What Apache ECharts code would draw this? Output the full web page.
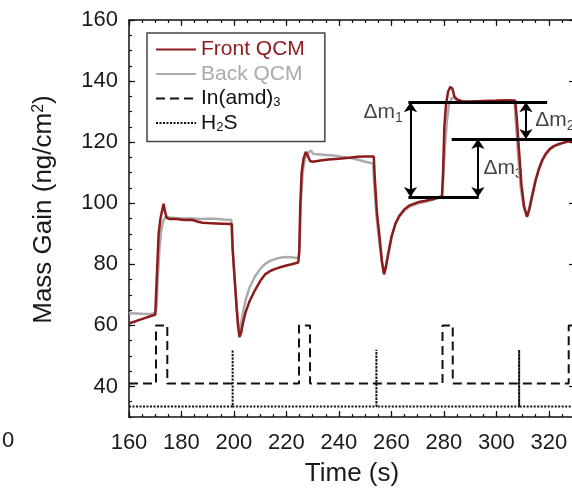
<!DOCTYPE html>
<html><head><meta charset="utf-8">
<script src="https://cdn.jsdelivr.net/npm/echarts@6/dist/echarts.min.js"></script>
<style>html,body{margin:0;padding:0;background:#fff}#c{width:572px;height:488px}</style>
</head><body><div id="c"></div>
<script>
// ---- data ----
const frontQCM = [
[160,60.7],[162,61.2],[164,61.8],[166,62.4],[168,63.0],[170,63.5],[170.4,64],[170.8,80],[171.3,90],[172,95],[172.6,97.5],[173.2,99.8],[173.8,97],[174.4,95.2],[175.5,94.8],[178,94.8],[181,94.5],[184,94.6],[186,94.0],[188,93.6],[190,93.5],[193,93.4],[196,93.3],[199.2,93.2],
[199.5,85],[200.2,76],[201,66],[201.6,59.5],[202.1,56.2],[202.7,57.5],[203.5,61],[204.5,64.5],[206,68],[208,71.5],[210,74.5],[212,76.8],[214,77.9],[216,78.6],[218,79.1],[220,79.6],[222,80.0],[224.5,80.6],
[224.9,84],[225.3,100],[225.8,110],[226.5,114.5],[227.4,116.8],[228.2,115.5],[229,113.8],[230,113.6],[233,114.0],[236,114.3],[240,114.6],[244,114.9],[247,115.2],[250,115.3],[253.3,115.3],
[253.7,108],[254.5,97],[255.5,89],[256.4,81],[257.2,76.7],[257.9,79],[258.8,83.5],[260,88.8],[261.5,93.2],[263,95.8],[265,98],[267,99.3],[270,100.3],[273,100.8],[276,101.4],[279.3,102.3],
[279.7,110],[280.2,125],[280.8,132],[281.6,136.5],[282.5,138.1],[283.3,137.5],[284,135],[285,134],[287,133.4],[290,133.3],[295,133.5],[300,133.6],[304,133.7],[307.2,133.6],
[307.8,128],[308.6,118],[309.6,106],[310.6,99],[311.7,95.5],[312.6,98],[313.6,102],[315,107.5],[316.3,111.3],[317.5,114],[319,116.3],[320.5,117.8],[322,118.7],[324,119.4],[326.5,120],[329,120.6],[330,120.8]
];
const backQCM = [
[160,64.0],[163,63.9],[166,63.7],[168,63.7],[170,64.0],[170.5,66],[171,76],[171.6,85],[172.3,91],[173,94],[173.8,95.6],[174.5,95.8],[175.5,95.3],[178,95.2],[181,95.0],[184,95.0],[187,94.8],[190,94.9],[193,94.9],[196,94.7],[199,94.6],
[199.3,88],[200,79],[200.8,69],[201.5,61],[202.1,58.3],[202.7,60.5],[203.5,64.5],[204.5,68.5],[206,72.5],[208,76],[210,78.5],[212,80.2],[214,81.2],[216,81.8],[218,82.2],[220,82.4],[222,82.3],[224.6,82.0],
[225,86],[225.5,100],[226.2,110],[227,114.5],[228,116.3],[229.3,117.3],[230.2,116.2],[232,116.0],[235,115.8],[238,115.6],[241,115.2],[244,114.9],[247,114.3],[250,113.6],[253,113.0],
[253.5,106],[254.3,96],[255.3,88],[256.3,81],[257.2,77.3],[258,79.8],[259,84],[260.2,89.3],[261.6,93.3],[263,95.6],[265,97.6],[267,98.9],[270,99.9],[273,100.5],[276,101.2],[279.3,102.0],
[279.8,108],[280.4,118],[281.2,127],[282,132.5],[283,134.5],[284,134.4],[285,133.8],[287,133.3],[290,133.1],[295,133.2],[300,133.3],[304,133.3],[307,133.1],
[307.5,126],[308.3,116],[309.3,105],[310.5,98.5],[311.7,95.8],[312.6,98.5],[313.6,102.5],[315,107.8],[316.3,111.6],[317.5,114.2],[319,116.5],[320.5,117.9],[322,118.8],[324,119.5],[326.5,120.1],[329,120.7],[330,120.9]
];
const inAmdPulse = [
[160,41],[170.3,41],[170.3,60],[174.6,60],[174.6,41],[224.8,41],[224.8,60],[229,60],[229,41],[279.5,41],[279.5,60],[283.4,60],[283.4,41],[327.6,41],[327.6,60],[330,60]
];
const h2sPulse = [
[160,33.4],[199.5,33.4],[199.5,52],[199.5,33.4],[254.3,33.4],[254.3,52],[254.3,33.4],[308.7,33.4],[308.7,52],[308.7,33.4],[330,33.4]
];
const xTickLabels = [160,180,200,220,240,260,280,300,320];
const yTickLabels = [40,60,80,100,120,140,160];
// Δm annotation: horizontal levels [tStart, tEnd, value]
const dmLevels = [[266.5,319.4,133.1],[283,330,121],[266.5,293.3,102]];
// double arrows [t, vTop, vBottom]
const dmArrows = [[267.3,133.1,102],[311.3,133.1,121],[293,121,102]];
// label anchors (centre) [t, v, index]
const dmLabels = [[256.9,129.8,'1'],[322.3,127.2,'2'],[302.6,111.5,'3']];

const FONT = 'Liberation Sans, Arial, sans-serif';
const RED = '#8e1b1b', GRAY = '#ababab';

const chart = echarts.init(document.getElementById('c'), null, {renderer:'canvas'});
const axisLine = {show:true, lineStyle:{color:'#111', width:1.5}};
function xAx(pos, major, labels){
  return {type:'value', min:160, max:330, interval: major?20:5, position:pos,
    axisLine: major?axisLine:{show:false},
    axisTick:{show:true, inside:true, length: major?6:3, lineStyle:{color:'#111', width:1.2}},
    axisLabel:{show:labels, fontSize:22, fontFamily:FONT, color:'#1a1a1a', margin:15,
      customValues: labels?xTickLabels:undefined},
    splitLine:{show:false},
    name: labels?'Time (s)':'', nameLocation:'middle', nameGap:44,
    nameTextStyle:{fontSize:26, fontFamily:FONT, color:'#1a1a1a'}};
}
function yAx(pos, major, labels){
  return {type:'value', min:30, max:160, interval: major?10:5, position:pos,
    axisLine: major?axisLine:{show:false},
    axisTick:{show:true, inside:true, length: major?6:3, lineStyle:{color:'#111', width:1.2},
      customValues: major?yTickLabels:undefined},
    axisLabel:{show:labels, fontSize:22, fontFamily:FONT, color:'#1a1a1a', margin:11,
      customValues: labels?yTickLabels:undefined},
    splitLine:{show:false},
    name: labels?'Mass Gain (ng/cm{sup|2})':'', nameLocation:'middle', nameGap:72,
    nameTextStyle:{fontSize:26, fontFamily:FONT, color:'#1a1a1a', padding:[0,0,0,18],
      rich:{sup:{fontSize:16, fontFamily:FONT, color:'#1a1a1a', verticalAlign:'top', lineHeight:26}}}};
}
const legendNames = ['Front QCM','Back QCM','In(amd)3','H2S'];
const option = {
  animation:false,
  backgroundColor:'#fff',
  grid:{left:129, top:20, width:446, height:397, show:false, containLabel:false, outerBoundsMode:'none'},
  xAxis:[xAx('bottom',true,true), xAx('bottom',false,false), xAx('top',true,false), xAx('top',false,false)],
  yAxis:[yAx('left',true,true), yAx('left',false,false), yAx('right',true,false), yAx('right',false,false)],
  legend:{orient:'vertical', left:147, top:33, padding:[6,20,8,8], itemGap:3.5, itemWidth:40, itemHeight:14,
    borderColor:'#444', borderWidth:1.5, selectedMode:false,
    itemStyle:{color:'rgba(0,0,0,0)', borderColor:'rgba(0,0,0,0)', borderWidth:0, opacity:0},
    data:[{name:legendNames[0], textStyle:{color:RED}},{name:legendNames[1], textStyle:{color:GRAY}},
          {name:legendNames[2], textStyle:{color:'#111'}},{name:legendNames[3], textStyle:{color:'#111'}}],
    textStyle:{fontSize:21, fontFamily:FONT, lineHeight:21,
      rich:{sub:{fontSize:13, fontFamily:FONT, verticalAlign:'bottom', lineHeight:21}}},
    formatter:function(n){ if(n==='In(amd)3') return 'In(amd){sub|3}'; if(n==='H2S') return 'H{sub|2}S'; return n; }
  },
  graphic:[{type:'text', left:2, top:430, style:{text:'0', fontSize:22, fontFamily:FONT, fill:'#1a1a1a'}}],
  series:[
    {name:legendNames[1], type:'line', data:backQCM, symbol:'none', lineStyle:{color:GRAY, width:2.5}, itemStyle:{color:GRAY}},
    {name:legendNames[0], type:'line', data:frontQCM, symbol:'none', lineStyle:{color:RED, width:2.5}, itemStyle:{color:RED}},
    {name:legendNames[2], type:'line', data:inAmdPulse, symbol:'none', lineStyle:{color:'#111', width:2, type:[9,5]}, itemStyle:{color:'#111'}},
    {name:legendNames[3], type:'line', data:h2sPulse, symbol:'none', lineStyle:{color:'#111', width:2, type:[2,1.5]}, itemStyle:{color:'#111'}},
    {name:'annot', type:'scatter', symbolSize:0, silent:true,
      data: dmLabels.map(d=>({value:[d[0],d[1]], name:d[2]})),
      label:{show:true, position:'inside', color:'#111', fontFamily:FONT,
        formatter:p=>'{m|Δm}{s|'+p.name+'}',
        rich:{m:{fontSize:21, fontFamily:FONT, color:'#111', lineHeight:26, verticalAlign:'middle'},
              s:{fontSize:14, color:'#111', verticalAlign:'bottom', lineHeight:26, fontFamily:FONT}}},
      markLine:{silent:true, animation:false, label:{show:false},
        data:[].concat(
          dmLevels.map(l=>[{coord:[l[0],l[2]], symbol:'none', lineStyle:{color:'#000', width:3, type:'solid'}},{coord:[l[1],l[2]], symbol:'none'}]),
          dmArrows.map(a=>[{coord:[a[0],a[1]], symbol:'arrow', symbolSize:10, lineStyle:{color:'#000', width:2, type:'solid'}},{coord:[a[0],a[2]], symbol:'arrow', symbolSize:10}])
        )}
    }
  ]
};
chart.setOption(option);
</script></body></html>
